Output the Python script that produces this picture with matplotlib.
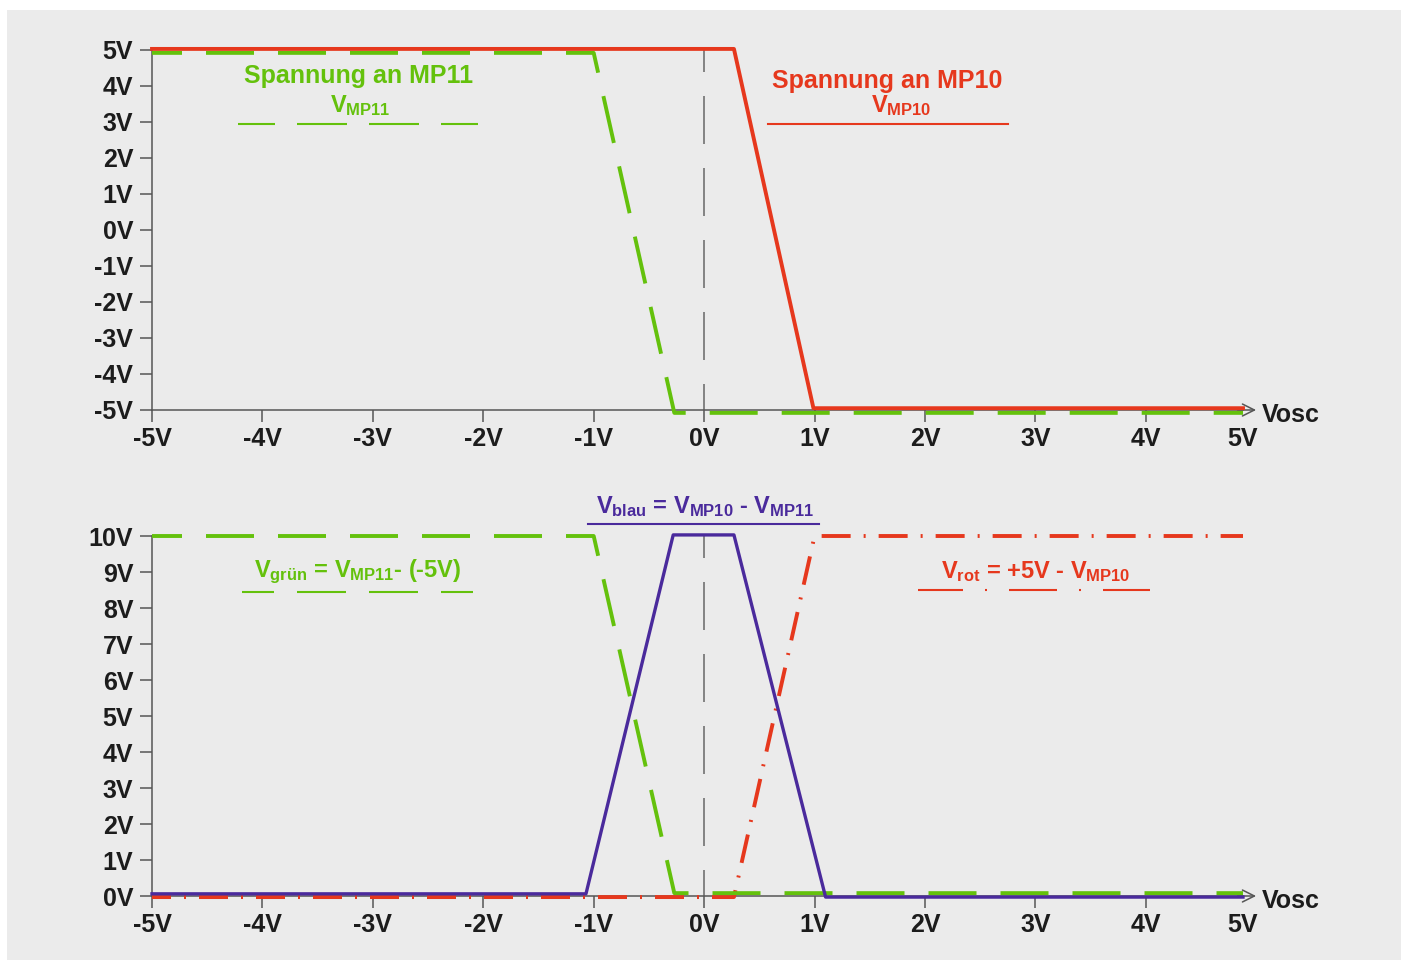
import matplotlib
matplotlib.use("Agg")
import matplotlib.pyplot as plt
from matplotlib.patches import Rectangle

## data

# upper plot: node voltages over Vosc (sweep ends where the axis arrow starts)
x_mp10 = [-5, 0.27, 0.99, 4.88]
v_mp10 = [5.03, 5.03, -4.95, -4.95]
x_mp11 = [-5, -1.0, -0.27, 4.88]
v_mp11 = [4.92, 4.92, -5.08, -5.08]

# lower plot: shifted voltages
x_gruen = [-5, -1.0, -0.27, 4.88]
v_gruen = [10.0, 10.0, 0.08, 0.08]
x_rot = [-5, 0.27, 1.0, 4.88]
v_rot = [-0.03, -0.03, 10.0, 10.0]
x_blau = [-5, -1.07, -0.28, 0.27, 1.1, 4.88]
v_blau = [0.06, 0.06, 10.03, 10.03, -0.03, -0.03]

x_ticks = [-5, -4, -3, -2, -1, 0, 1, 2, 3, 4, 4.88]
x_labels = ["-5V", "-4V", "-3V", "-2V", "-1V", "0V", "1V", "2V", "3V", "4V", "5V"]
y_ticks_top = [-5, -4, -3, -2, -1, 0, 1, 2, 3, 4, 5]
y_labels_top = ["-5V", "-4V", "-3V", "-2V", "-1V", "0V", "1V", "2V", "3V", "4V", "5V"]
y_ticks_bot = [0, 1, 2, 3, 4, 5, 6, 7, 8, 9, 10]
y_labels_bot = ["0V", "1V", "2V", "3V", "4V", "5V", "6V", "7V", "8V", "9V", "10V"]

GREEN = "#64c10c"
RED = "#e6381d"
BLUE = "#4a2a9c"
AXC = "#555555"
TXT = "#1c1c1c"

plt.rcParams["font.family"] = ["Liberation Sans", "DejaVu Sans"]
plt.rcParams["font.weight"] = "bold"
plt.rcParams["mathtext.fontset"] = "custom"
plt.rcParams["mathtext.rm"] = "Liberation Sans:bold"
plt.rcParams["mathtext.it"] = "Liberation Sans:bold"
plt.rcParams["mathtext.bf"] = "Liberation Sans:bold"
plt.rcParams["lines.scale_dashes"] = False

PX = 0.72  # points per pixel at dpi 100
GREEN_DASH = (18 * PX, (48 * PX, 24 * PX))
RED_DASHDOT = (10 * PX, (29 * PX, 13 * PX, 2 * PX, 13 * PX))
VLINE_DASH = (22 * PX, (48 * PX, 24 * PX))

fig = plt.figure(figsize=(14.01, 9.6), dpi=100)
fig.patch.set_facecolor("white")
fig.add_artist(Rectangle((7 / 1401, 0), 1, 1 - 10 / 960, transform=fig.transFigure,
                         facecolor="#ebebeb", edgecolor="none", zorder=-10))

left = 152 / 1401
width = (1243 - 152) / 1401
ax1 = fig.add_axes([left, 1 - 410 / 960, width, 360 / 960])
ax2 = fig.add_axes([left, 1 - 896 / 960, width, 360 / 960])


def style_axis(ax, yticks, ylabels):
    ax.set_facecolor("none")
    ax.set_xlim(-5, 4.88)
    ax.set_ylim(yticks[0], yticks[-1])
    for s in ["top", "right"]:
        ax.spines[s].set_visible(False)
    for s in ["left", "bottom"]:
        ax.spines[s].set_color(AXC)
        ax.spines[s].set_linewidth(1.1)
    ax.set_xticks(x_ticks)
    ax.set_xticklabels(x_labels)
    ax.set_yticks(yticks)
    ax.set_yticklabels(ylabels)
    ax.tick_params(axis="both", direction="out", length=8.5, width=1.1, color=AXC,
                   labelsize=18, labelcolor=TXT)
    ax.tick_params(axis="x", pad=3.5)
    ax.tick_params(axis="y", pad=5)
    for lab in ax.get_xticklabels() + ax.get_yticklabels():
        lab.set_fontweight("bold")
    # no tick mark under the arrow
    ax.xaxis.get_major_ticks()[-1].tick1line.set_visible(False)
    # arrow on the x axis and its name
    ax.annotate("", xy=(1.012, 0), xycoords="axes fraction", xytext=(0.995, 0),
                arrowprops=dict(arrowstyle="->,head_length=0.86,head_width=0.43",
                                color=AXC, lw=1.1, shrinkA=0, shrinkB=0))
    ax.annotate("Vosc", xy=(1.0175, 0), xycoords="axes fraction", xytext=(0, -8.5),
                textcoords="offset points", ha="left", va="baseline",
                fontsize=18, fontweight="bold", color=TXT)
    # dashed marker at Vosc = 0
    ax.plot([0, 0], [yticks[0], yticks[-1]], color="#666666", lw=1.1,
            linestyle=VLINE_DASH, zorder=1)


style_axis(ax1, y_ticks_top, y_labels_top)
style_axis(ax2, y_ticks_bot, y_labels_bot)

# upper plot
ax1.plot(x_mp11, v_mp11, color=GREEN, lw=2.8, linestyle=GREEN_DASH, clip_on=False, zorder=3)
ax1.plot(x_mp10, v_mp10, color=RED, lw=2.8, clip_on=False, zorder=4)

ax1.text(-3.125, 4.28, "Spannung an MP11", color=GREEN, fontsize=18, fontweight="bold",
         ha="center", va="center")
ax1.text(-3.116, 3.47, r"$V_{MP11}$", color=GREEN, fontsize=17, ha="center", va="center")
ax1.plot([-4.221, -2.047], [2.94, 2.94], color=GREEN, lw=1.5,
         linestyle=(13 * PX, (50 * PX, 22 * PX)), clip_on=False)

ax1.text(1.658, 4.14, "Spannung an MP10", color=RED, fontsize=18, fontweight="bold",
         ha="center", va="center")
ax1.text(1.784, 3.47, r"$V_{MP10}$", color=RED, fontsize=17, ha="center", va="center")
ax1.plot([0.580, 2.754], [2.94, 2.94], color=RED, lw=1.5, clip_on=False)

# lower plot
ax2.plot(x_rot, v_rot, color=RED, lw=2.8, linestyle=RED_DASHDOT, clip_on=False, zorder=3)
ax2.plot(x_gruen, v_gruen, color=GREEN, lw=2.8, linestyle=GREEN_DASH, clip_on=False, zorder=4)
ax2.plot(x_blau, v_blau, color=BLUE, lw=2.4, clip_on=False, zorder=5)

ax2.text(0.009, 10.83, r"$V_{blau}$ = $V_{MP10}$ - $V_{MP11}$", color=BLUE, fontsize=17,
         fontweight="bold", ha="center", va="center")
ax2.plot([-1.051, 1.042], [10.33, 10.33], color=BLUE, lw=1.5, clip_on=False)

ax2.text(-3.134, 9.0, r"$V_{grün}$ = $V_{MP11}$- (-5V)", color=GREEN, fontsize=17,
         fontweight="bold", ha="center", va="center")
ax2.plot([-4.185, -2.092], [8.44, 8.44], color=GREEN, lw=1.5,
         linestyle=(17 * PX, (49 * PX, 23 * PX)), clip_on=False)

ax2.text(2.998, 9.0, r"$V_{rot}$ = +5V - $V_{MP10}$", color=RED, fontsize=17,
         fontweight="bold", ha="center", va="center")
ax2.plot([1.938, 4.040], [8.5, 8.5], color=RED, lw=1.5,
         linestyle=(3 * PX, (48 * PX, 22 * PX, 2 * PX, 22 * PX)), clip_on=False)

fig.savefig("out.png", dpi=100, facecolor=fig.get_facecolor())
